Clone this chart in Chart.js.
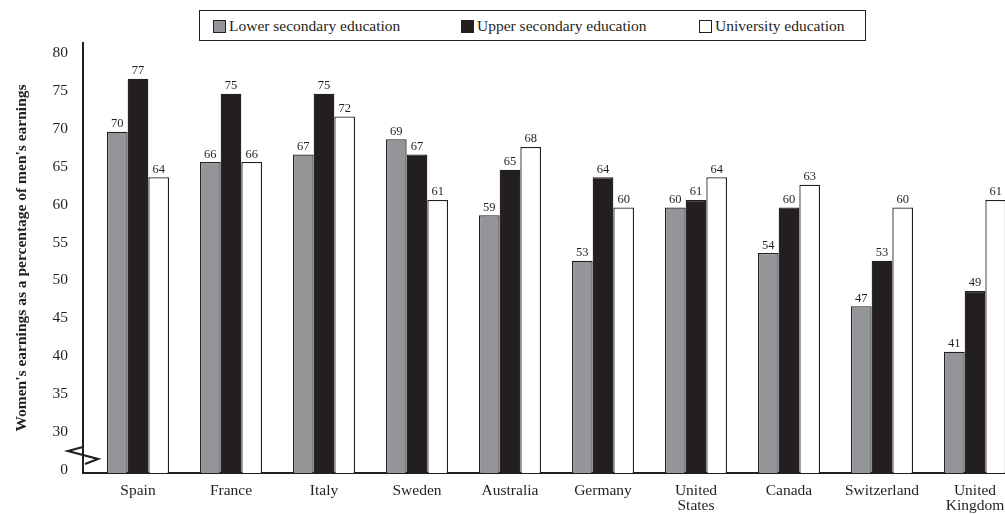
<!DOCTYPE html>
<html>
<head>
<meta charset="utf-8">
<title>Women's earnings as a percentage of men's earnings</title>
<script src="https://cdn.jsdelivr.net/npm/chart.js"></script>
<style>
    body { margin: 0; background: #fff; overflow: hidden; }
    #wrap { position: relative; width: 1005px; height: 514px; }
    #legenda {
        position: absolute; left: 199px; top: 10px; width: 665px; height: 29px;
        border: 1.5px solid #231f20; background: #fff;
        font: 15.5px "Liberation Serif", "Times New Roman", serif; color: #231f20;
    }
    .item { position: absolute; top: 0; height: 29px; line-height: 29px; white-space: nowrap; }
    .caixa {
        display: inline-block; width: 11px; height: 11px; border: 1.5px solid #231f20;
        vertical-align: middle; margin-right: 3px; position: relative; top: -1px;
    }
</style>
</head>
<body>
<div id="wrap">
    <canvas id="GraficoSalarios" width="1005" height="514"></canvas>
    <div id="legenda"></div>
</div>
<script>
// dados
var paises = ["Spain", "France", "Italy", "Sweden", "Australia", "Germany", "United States", "Canada", "Switzerland", "United Kingdom"];
var nomesSeries = ["Lower secondary education", "Upper secondary education", "University education"];
var secundarioInferior = [70, 66, 67, 69, 59, 53, 60, 54, 47, 41];
var secundarioSuperior = [77, 75, 75, 67, 65, 64, 61, 60, 53, 49];
var universidade = [64, 66, 72, 61, 68, 60, 64, 63, 60, 61];
// o eixo e quebrado: a base (25) aparece como "0"
var baseEixo = 25;
var rotuloBase = "0";

var fonte = '"Liberation Serif", "Times New Roman", serif';
var corTexto = '#231f20';
var cores = ['#939598', '#231f20', '#ffffff'];

function PegarPontos(valores) {
    return valores.map(function (v, i) { return { x: i, y: v }; });
}

function MontarLegenda() {
    var posicoes = [13, 261, 499];
    var div = document.getElementById('legenda');
    nomesSeries.forEach(function (nome, i) {
        var item = document.createElement('span');
        item.className = 'item';
        item.style.left = posicoes[i] + 'px';
        var caixa = document.createElement('span');
        caixa.className = 'caixa';
        caixa.style.background = cores[i];
        item.appendChild(caixa);
        item.appendChild(document.createTextNode(nome));
        div.appendChild(item);
    });
}

// valores em cima das barras
var rotulosBarras = {
    id: 'rotulosBarras',
    afterDatasetsDraw: function (chart) {
        var ctx = chart.ctx;
        ctx.save();
        ctx.font = '12.5px ' + fonte;
        ctx.fillStyle = corTexto;
        ctx.textAlign = 'center';
        ctx.textBaseline = 'alphabetic';
        chart.data.datasets.forEach(function (ds, d) {
            chart.getDatasetMeta(d).data.forEach(function (barra, i) {
                ctx.fillText(ds.data[i].y, barra.x, barra.y - 4.5);
            });
        });
        ctx.restore();
    }
};

// simbolo de quebra no eixo y
var quebraEixo = {
    id: 'quebraEixo',
    afterDraw: function (chart) {
        var a = chart.chartArea;
        var ctx = chart.ctx;
        ctx.save();
        ctx.strokeStyle = corTexto;
        ctx.lineWidth = 2.2;
        ctx.lineJoin = 'miter';
        ctx.beginPath();
        ctx.moveTo(a.left, a.bottom - 26);
        ctx.lineTo(a.left - 15, a.bottom - 22);
        ctx.lineTo(a.left + 15, a.bottom - 14);
        ctx.lineTo(a.left + 2, a.bottom - 9);
        ctx.stroke();
        ctx.restore();
    }
};

MontarLegenda();

var ctx = document.getElementById('GraficoSalarios').getContext('2d');

var grafico = new Chart(ctx, {
    type: 'bar',
    data: {
        datasets: [
            { label: nomesSeries[0], data: PegarPontos(secundarioInferior), backgroundColor: cores[0] },
            { label: nomesSeries[1], data: PegarPontos(secundarioSuperior), backgroundColor: cores[1] },
            { label: nomesSeries[2], data: PegarPontos(universidade), backgroundColor: cores[2] }
        ]
    },
    options: {
        responsive: false,
        animation: false,
        devicePixelRatio: 1,
        layout: { padding: { top: 43, left: 0, right: 0, bottom: 0 } },
        datasets: {
            bar: {
                categoryPercentage: 0.667,
                barPercentage: 1,
                borderColor: corTexto,
                borderWidth: 1.3
            }
        },
        plugins: {
            legend: { display: false },
            tooltip: { enabled: false }
        },
        scales: {
            x: {
                type: 'linear',
                min: -0.5914,
                max: 9.3226,
                offset: false,
                grid: { display: false, drawTicks: false },
                border: { color: corTexto, width: 2 },
                ticks: {
                    stepSize: 1,
                    includeBounds: false,
                    autoSkip: false,
                    maxRotation: 0,
                    padding: 10,
                    color: corTexto,
                    font: { family: fonte, size: 15.5, lineHeight: 1.0 },
                    callback: function (v) {
                        var nome = paises[v];
                        if (!nome) return '';
                        return nome.indexOf(' ') > 0 ? nome.split(' ') : nome;
                    }
                },
                afterFit: function (escala) {
                    escala.height = 41;
                    escala.paddingLeft = 0;
                    escala.paddingRight = 0;
                }
            },
            y: {
                min: baseEixo,
                max: 81.7,
                grid: { display: false, drawTicks: false },
                border: { color: corTexto, width: 2 },
                ticks: {
                    stepSize: 5,
                    includeBounds: false,
                    padding: 15,
                    labelOffset: -3,
                    color: corTexto,
                    font: { family: fonte, size: 15.5 },
                    callback: function (v) { return v === baseEixo ? rotuloBase : v; }
                },
                title: {
                    display: true,
                    text: "Women's earnings as a percentage of men's earnings",
                    color: corTexto,
                    font: { family: fonte, size: 15.5, weight: 'bold' },
                    padding: { top: 13, bottom: 0 }
                },
                afterFit: function (escala) {
                    escala.width = 83;
                    escala.paddingTop = 0;
                    escala.paddingBottom = 0;
                }
            }
        }
    },
    plugins: [rotulosBarras, quebraEixo]
});
</script>
</body>
</html>
